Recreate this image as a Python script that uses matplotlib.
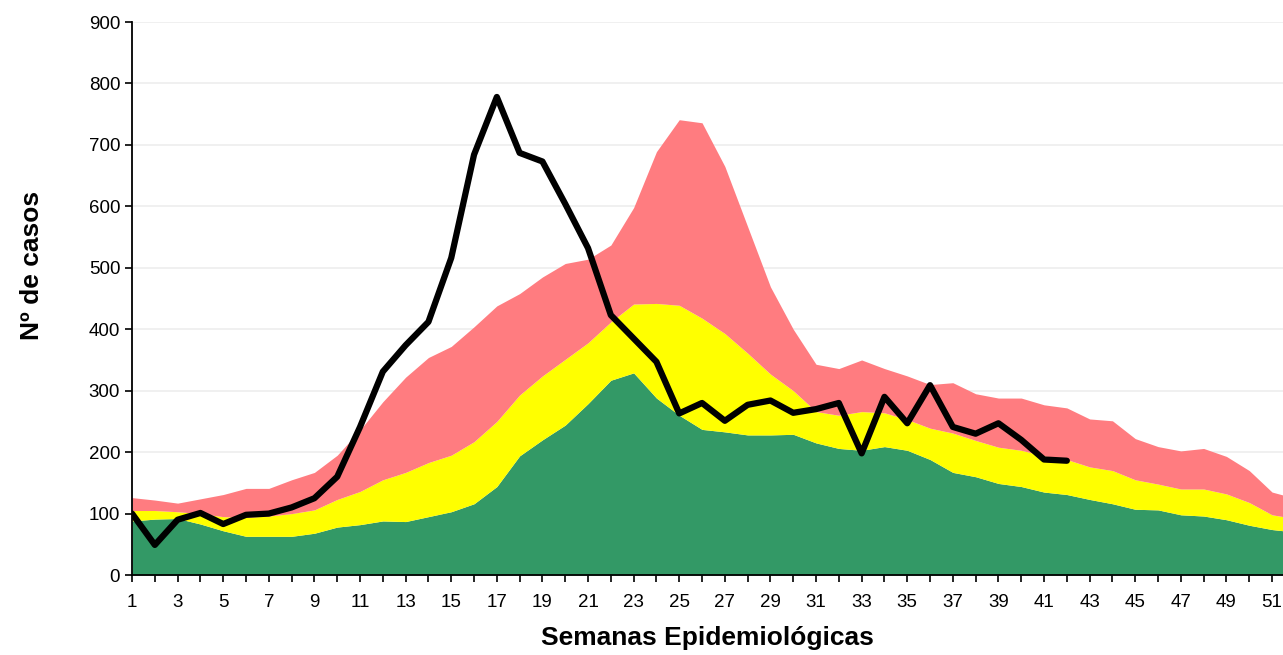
import matplotlib
matplotlib.use("Agg")
import matplotlib.pyplot as plt
import numpy as np

# semanas epidemiológicas
semanas = np.arange(1, 53)

# límites del canal endémico (valores acumulados)
exito = [88, 91, 92, 83, 72, 63, 63, 63, 68, 78, 82, 88, 87, 95, 103, 116, 144, 194, 220, 244,
         279, 317, 329, 288, 260, 237, 233, 228, 228, 229, 215, 206, 203, 209, 203, 188, 167, 160,
         149, 144, 135, 131, 123, 116, 107, 106, 98, 96, 90, 81, 74, 70]
seguridad = [105, 105, 103, 100, 95, 94, 96, 100, 106, 123, 136, 155, 167, 183, 195, 217, 250, 293,
             324, 351, 378, 412, 441, 442, 439, 418, 393, 361, 327, 300, 266, 260, 266, 264, 253,
             239, 231, 219, 208, 203, 194, 188, 176, 170, 155, 148, 140, 140, 132, 118, 98, 92]
alerta = [126, 122, 117, 124, 131, 141, 141, 155, 167, 195, 236, 282, 322, 354, 372, 404, 438, 458,
          485, 507, 514, 537, 598, 689, 741, 736, 665, 567, 469, 400, 343, 336, 350, 336, 324, 310,
          313, 295, 288, 288, 277, 272, 254, 251, 222, 209, 202, 206, 193, 170, 135, 125]

# casos notificados del año
casos = [100, 49, 90, 101, 83, 98, 100, 110, 125, 160, 241, 331, 374, 412, 516, 684, 778, 687,
         673, 604, 532, 423, 385, 347, 263, 280, 251, 277, 284, 264, 270, 280, 198, 290, 247,
         309, 241, 230, 247, 220, 188, 186]

plt.rcParams['font.family'] = ['Liberation Sans', 'DejaVu Sans']

fig = plt.figure(figsize=(12.83, 6.55), dpi=100)
ax = fig.add_axes([0.1029, 0.1221, 0.8971, 0.8443])

ax.fill_between(semanas, 0, exito, color='#339966', linewidth=0, zorder=2)
ax.fill_between(semanas, exito, seguridad, color='#FFFF00', linewidth=0, zorder=2)
ax.fill_between(semanas, seguridad, alerta, color='#FF7C80', linewidth=0, zorder=2)
ax.plot(semanas[:len(casos)], casos, color='black', linewidth=4.5,
        solid_capstyle='round', solid_joinstyle='round', zorder=3)

ax.set_xlim(1, 51.48)
ax.set_ylim(0, 900)
ax.set_yticks(np.arange(0, 901, 100))
ax.set_xticks(np.arange(1, 52, 2))
ax.set_xticks(np.arange(1, 52), minor=True)
ax.grid(axis='y', color='#EFEFEF', linewidth=1.3)
ax.set_axisbelow(True)

for s in ['top', 'right']:
    ax.spines[s].set_visible(False)
for s in ['left', 'bottom']:
    ax.spines[s].set_linewidth(1.3)

ax.tick_params(axis='both', which='both', direction='out', length=5, width=1.2, labelsize=13.5)
ax.tick_params(axis='x', pad=9)

ax.set_xlabel('Semanas Epidemiológicas', fontsize=19, fontweight='bold')
ax.xaxis.set_label_coords(0.5, -0.092)
ax.set_ylabel('Nº de casos', fontsize=19, fontweight='bold')
ax.yaxis.set_label_coords(-0.0765, 0.56)

plt.savefig('out.png', dpi=100)
